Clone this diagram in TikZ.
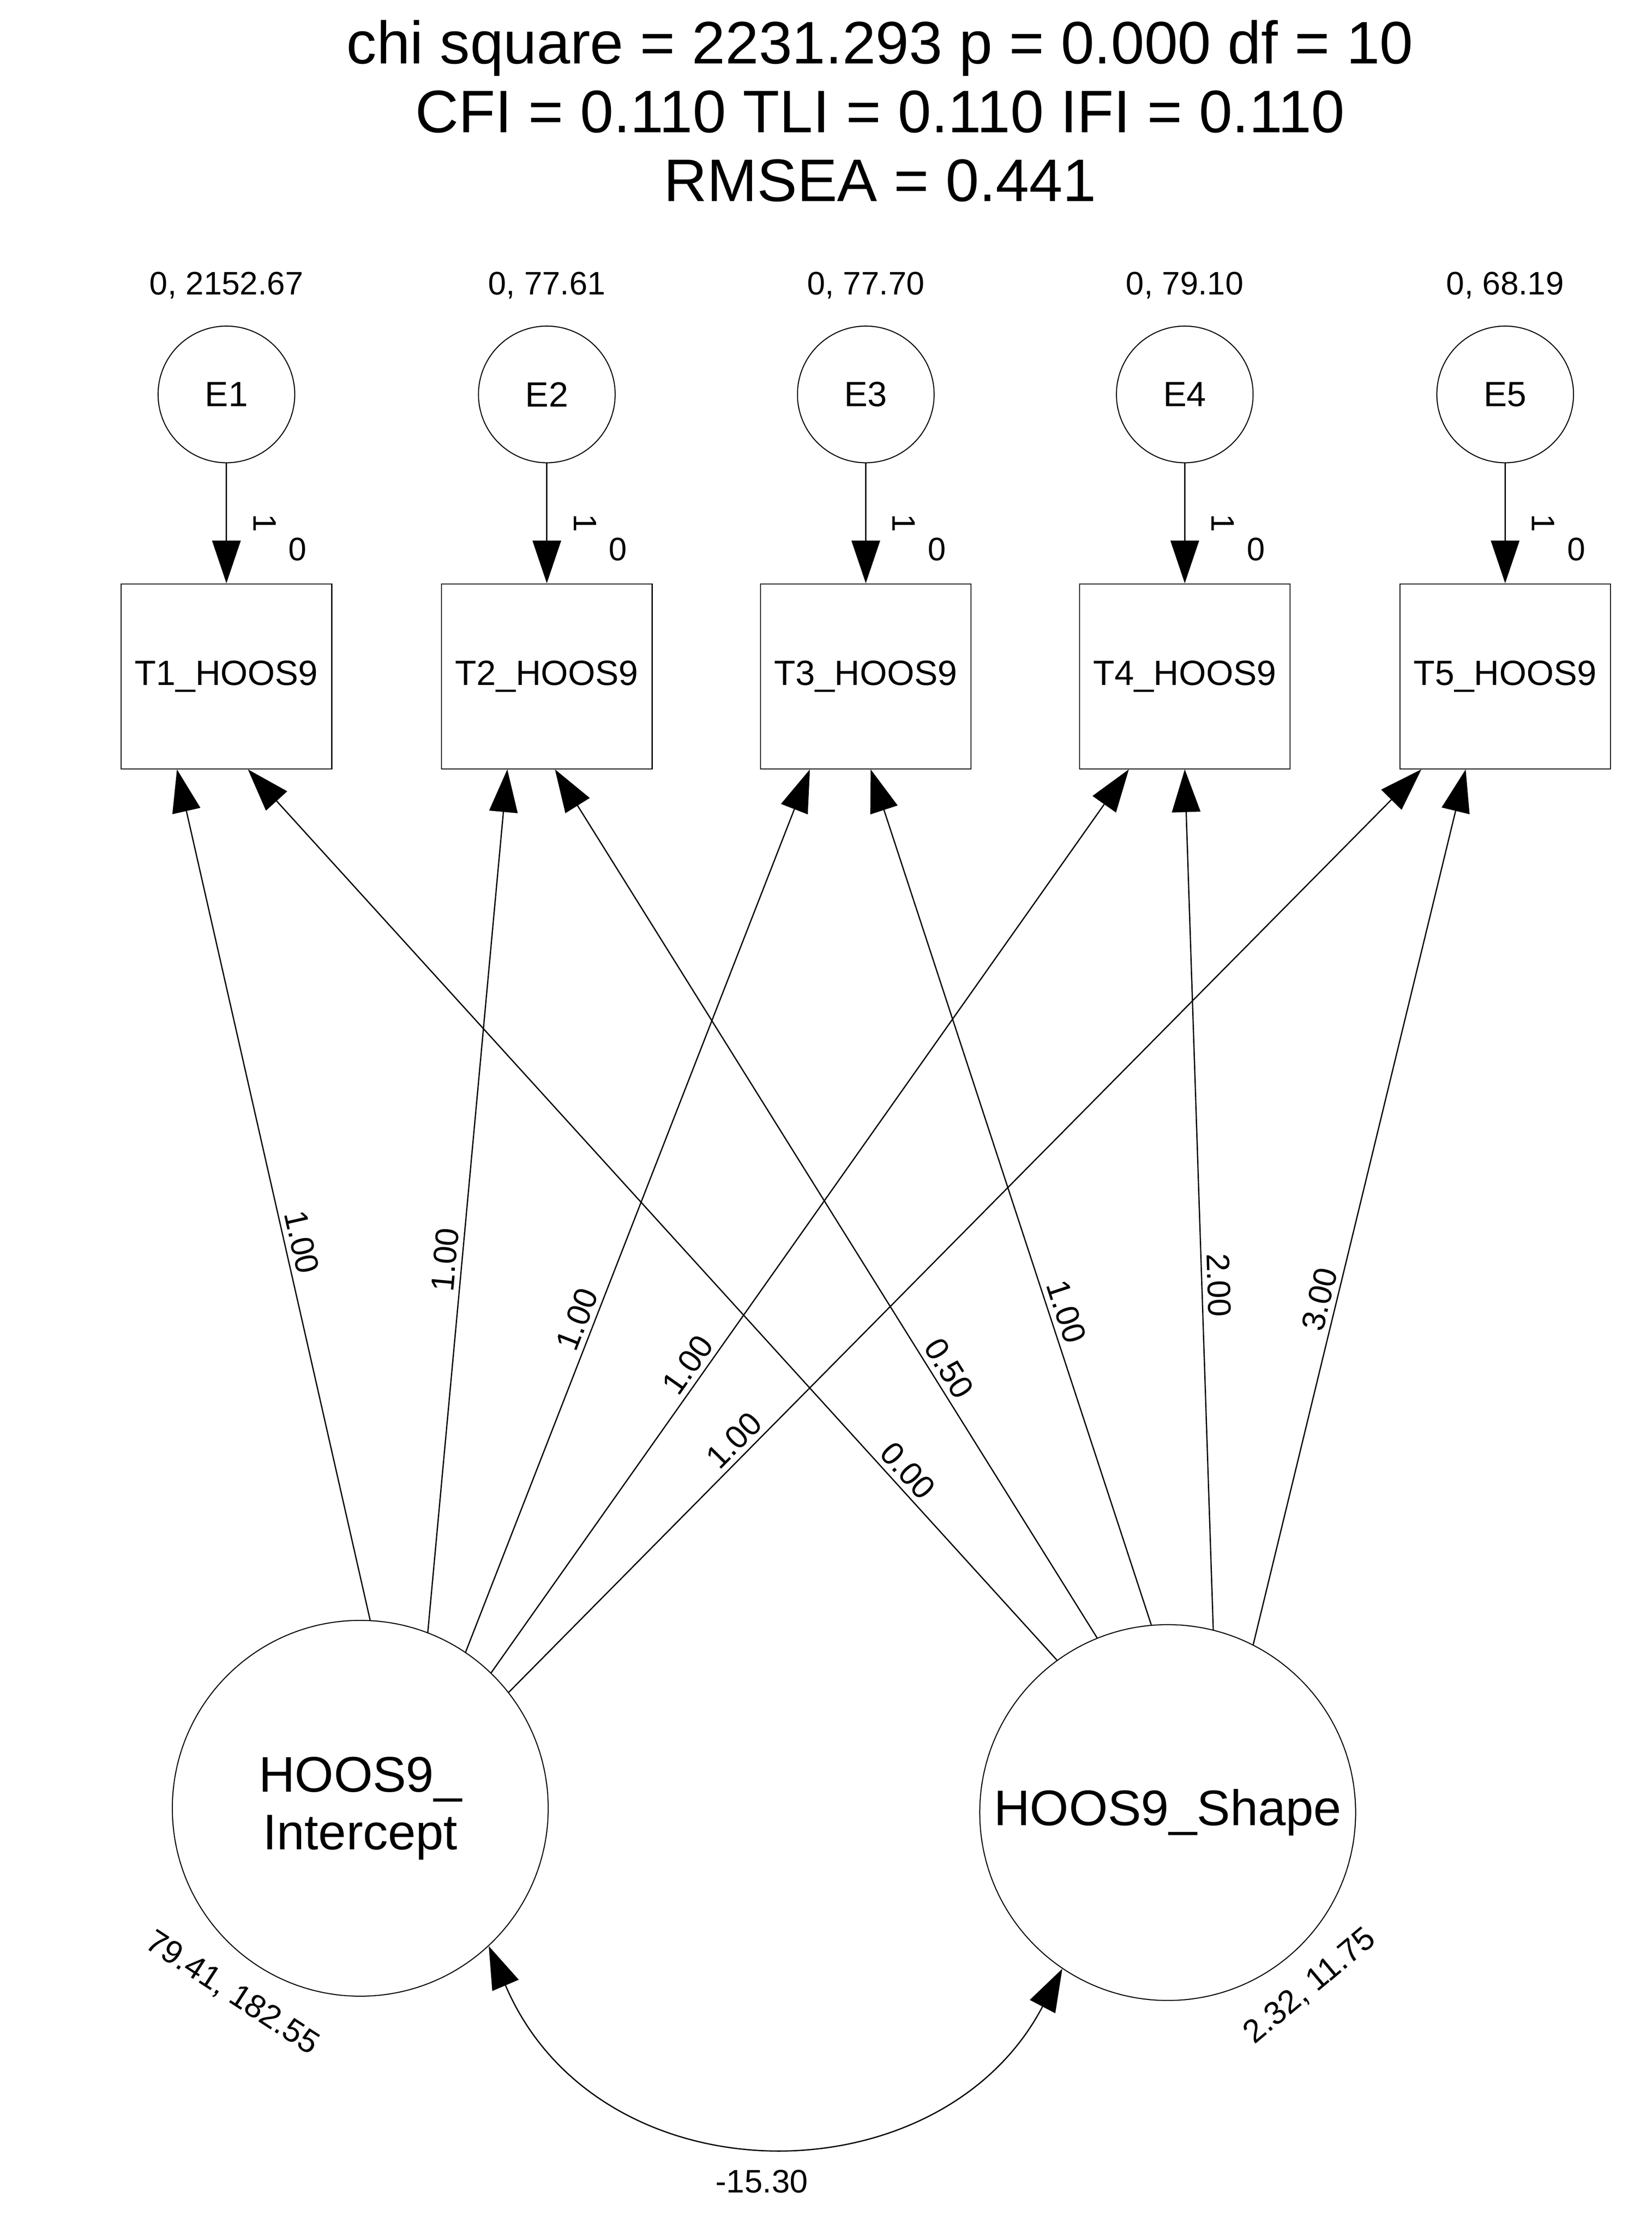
\documentclass[tikz,border=0pt]{standalone}
\usepackage{fontspec}
\setmainfont{Liberation Sans}
\usetikzlibrary{positioning,arrows.meta}
\tikzset{
    obs/.style={
        rectangle, draw, minimum width=2.96cm,
        minimum height=2.6cm, font=\fontsize{14}{16}\selectfont
    },
    err/.style={
        circle, draw, minimum size=1.92cm, inner sep=0pt,
        font=\fontsize{14}{16}\selectfont
    },
    lat/.style={
        circle, draw, minimum size=5.28cm, inner sep=0pt,
        align=center, font=\fontsize{20}{23}\selectfont
    },
    lbl/.style={font=\fontsize{13}{15}\selectfont, inner sep=2pt},
    path/.style={-{Triangle[length=0.6cm,width=0.4cm]}, line width=0.5pt}
}
\begin{document}
\begin{tikzpicture}[x=0.02cm, y=0.02cm]
    \useasboundingbox (0,0) rectangle (1160,-1569);

    % Fit statistics
    \node[font=\fontsize{24}{27.5}\selectfont, align=center] (fit) at (618,-78)
        {chi square = 2231.293 p = 0.000 df = 10\\CFI = 0.110 TLI = 0.110 IFI = 0.110\\RMSEA = 0.441};

    % Errors and observed variables
    \foreach \i/\x/\v in {1/159/{0, 2152.67}, 2/384/{0, 77.61}, 3/608/{0, 77.70}, 4/832/{0, 79.10}, 5/1057/{0, 68.19}} {
        \node[err] (E\i) at (\x,-277) {E\i};
        \node[lbl, above=0.3cm of E\i] (v\i) {\v};
        \node[obs] (T\i) at (\x,-475) {T\i\_HOOS9};
        \draw[path] (E\i) -- node[lbl, sloped, above=0.3cm, pos=0.5] {1} (T\i);
        \node[lbl] (m\i) at ([xshift=1cm, yshift=0.48cm]T\i.north) {0};
    }

    % Latent growth factors
    \node[lat] (I) at (253,-1270) {HOOS9\_\\Intercept};
    \node[lat] (S) at (820,-1273) {HOOS9\_Shape};
    \node[lbl, rotate=-33] (vI) at (163,-1400) {79.41, 182.55};
    \node[lbl, rotate=40] (vS) at (920,-1395) {2.32, 11.75};

    % Loadings
    \draw[path] (I.87.8) -- node[lbl, sloped, above, pos=0.44] {1.00} (T1.242.4);
    \draw[path] (I.69.8) -- node[lbl, sloped, above, pos=0.43] {1.00} (T2.247.4);
    \draw[path] (I.56.8) -- node[lbl, sloped, above, pos=0.37] {1.00} (T3.239.7);
    \draw[path] (I.46.9) -- node[lbl, sloped, above, pos=0.33] {1.00} (T4.239);
    \draw[path] (I.38.3) -- node[lbl, sloped, above, pos=0.26] {1.00} (T5.228.7);

    \draw[path] (S.126.2) -- node[lbl, sloped, above, pos=0.20] {0.00} (T1.283.8);
    \draw[path] (S.112.1) -- node[lbl, sloped, above, pos=0.30] {0.50} (T2.275.3);
    \draw[path] (S.95.4) -- node[lbl, sloped, above, pos=0.36] {1.00} (T3.273.5);
    \draw[path] (S.76.8) -- node[lbl, sloped, above, pos=0.40] {2.00} (T4.270);
    \draw[path] (S.63.3) -- node[lbl, sloped, above, pos=0.39] {3.00} (T5.247.4);

    % Covariance
    \coordinate (c1) at (420,-1547);
    \coordinate (c2) at (660,-1547);
    \draw[{Triangle[length=0.6cm,width=0.4cm]}-{Triangle[length=0.6cm,width=0.4cm]}, line width=0.5pt]
        (I.-47.3) .. controls (c1) and (c2) .. (S.-124.3);
    \node[lbl] (cov) at (535,-1532) {-15.30};
\end{tikzpicture}
\end{document}
